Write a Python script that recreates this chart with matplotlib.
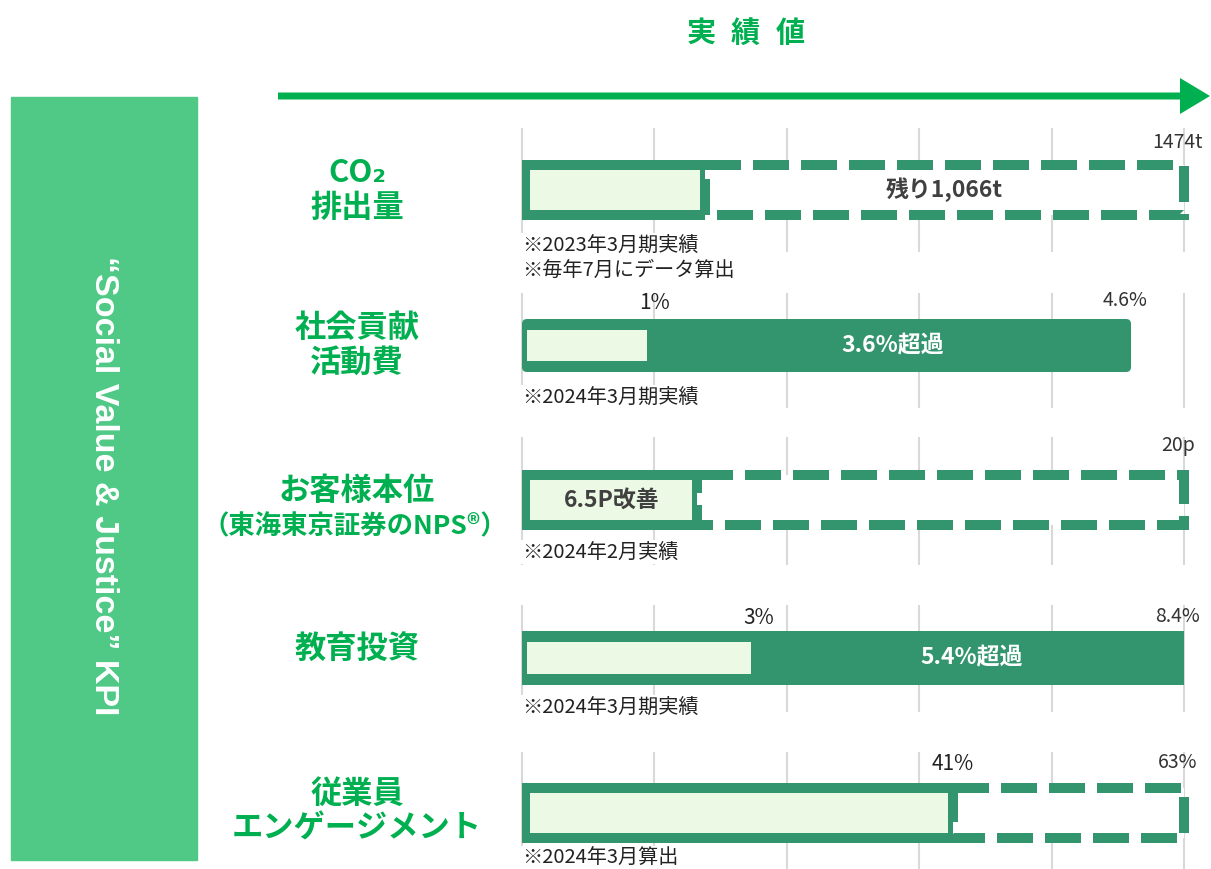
import numpy as np
import matplotlib.pyplot as plt
from matplotlib.patches import Rectangle, FancyBboxPatch, FancyArrow

plt.rcParams['font.family'] = ['Noto Sans CJK JP', 'DejaVu Sans']

# Datos
kpi_names = ["CO₂\n排出量", "社会貢献\n活動費", "お客様本位", "教育投資", "従業員\nエンゲージメント"]
kpi_kind = ["remaining", "exceeded", "remaining", "exceeded", "remaining"]
actual = [408, 1.0, 5.3, 3.0, 41]
target = [1474, 4.6, 20, 8.4, 63]
axis_max = [1474, 5, 20, 8.4, 63]
actual_labels = [None, "1%", None, "3%", "41%"]
target_labels = ["1474t", "4.6%", "20p", "8.4%", "63%"]
bar_texts = ["残り1,066t", "3.6%超過", "6.5P改善", "5.4%超過", None]
notes = ["※2023年3月期実績\n※毎年7月にデータ算出", "※2024年3月期実績", "※2024年2月実績",
         "※2024年3月期実績", "※2024年3月算出"]

# Colores
GREEN = "#00B050"
BOX = "#4FC985"
DARK = "#33956D"
LIGHT = "#EBF9E5"
GRID = "#D9D9D9"

W, H = 1211, 869
fig = plt.figure(figsize=(W / 100, H / 100), dpi=100)

def fx(x):
    return x / W

def fy(y):
    return 1 - y / H

# Caja izquierda
fig.patches.append(Rectangle((fx(11), fy(860)), fx(197) - fx(11), fy(97) - fy(860),
                             transform=fig.transFigure, color=BOX, zorder=0))
fig.text(fx(103), fy(486), "“Social Value & Justice” KPI", rotation=-90, color="white",
         fontsize=24.5, fontweight="bold", family=["Liberation Sans", "DejaVu Sans"],
         ha="center", va="center")

# Titulo y flecha
for ch, x in zip("実績値", [701, 745, 790]):
    fig.text(fx(x), fy(33), ch, color=GREEN, fontsize=21, fontweight="bold",
             ha="center", va="center")
fig.patches.append(FancyArrow(fx(278), fy(96), fx(1210) - fx(278), 0, width=7 / H,
                              head_width=36 / H, head_length=fx(30),
                              length_includes_head=True, transform=fig.transFigure,
                              color=GREEN, lw=0))

# Posiciones de paneles (px): rejilla arriba/abajo, barra arriba/abajo, centro del nombre
grid_top = [128, 293, 437, 605, 752]
grid_bot = [252, 408, 565, 712, 869]
bar_top = [160, 319, 470, 631, 783]
bar_bot = [220, 372, 530, 685, 843]
name_y = [190, 345, 491, 650, 811]
label_y = [143, 300, 446, 616, 762]
note_y = [245, 397, 552, 707, 858]

x0, x1 = 522, 1184
bw = 10  # borde en px

for i in range(5):
    ax = fig.add_axes([fx(x0), fy(grid_bot[i]), fx(x1) - fx(x0), fy(grid_top[i]) - fy(grid_bot[i])])
    ax.set_xlim(0, axis_max[i])
    ax.set_ylim(grid_bot[i], grid_top[i])
    ax.axis("off")
    px = axis_max[i] / (x1 - x0)  # unidades por px

    ax.vlines(np.linspace(0, axis_max[i], 6), grid_top[i], grid_bot[i], color=GRID, lw=1.5,
              zorder=0, clip_on=False)

    yt, yb = bar_top[i], bar_bot[i]
    if kpi_kind[i] == "remaining":
        ax.add_patch(Rectangle((actual[i], yt + bw / 2), target[i] - actual[i], yb - yt - bw,
                               facecolor="white", edgecolor=DARK, lw=bw * 0.72,
                               linestyle=(0, (3.6, 1.2)), zorder=2, clip_on=False))
        ax.add_patch(Rectangle((0, yt), actual[i], yb - yt, facecolor=DARK, lw=0,
                               zorder=3, clip_on=False))
        ax.add_patch(Rectangle((8 * px, yt + bw), actual[i] - 13 * px, yb - yt - 2 * bw,
                               facecolor=LIGHT, lw=0, zorder=4))
        if i == 0:
            ax.text((actual[i] + target[i]) / 2, (yt + yb) / 2, bar_texts[i], color="#404040",
                    fontsize=16.5, fontweight="bold", ha="center", va="center", zorder=5)
        elif bar_texts[i]:
            ax.text((actual[i] + 3 * px) / 2, (yt + yb) / 2, bar_texts[i], color="#404040",
                    fontsize=16.5, fontweight="bold", ha="center", va="center", zorder=5)
    else:
        if i == 1:
            ax.add_patch(FancyBboxPatch((0, yt), target[i], yb - yt,
                                        boxstyle="round,pad=0,rounding_size=%f" % (5 * px),
                                        mutation_aspect=1 / px, facecolor=DARK, lw=0,
                                        zorder=3, clip_on=False))
        else:
            ax.add_patch(Rectangle((0, yt), target[i], yb - yt, facecolor=DARK, lw=0,
                                   zorder=3, clip_on=False))
        ax.add_patch(Rectangle((5 * px, yt + 11), actual[i] - 12 * px, yb - yt - 22,
                               facecolor=LIGHT, lw=0, zorder=4))
        ax.text((actual[i] + target[i]) / 2, (yt + yb) / 2, bar_texts[i], color="white",
                fontsize=16.5, fontweight="bold", ha="center", va="center", zorder=5)

    ax.text(target[i] - 6 * px, label_y[i], target_labels[i], color="#333333", fontsize=14,
            ha="center", va="center", zorder=5, clip_on=False)
    if actual_labels[i]:
        ax.text(actual[i], label_y[i] + (3 if i == 1 else 2), actual_labels[i], color="#222222",
                fontsize=15, ha="center", va="center", zorder=5, clip_on=False)

    for k, line in enumerate(notes[i].split("\n")):
        ax.text(0, note_y[i] + 25 * k, line, color="#222222", fontsize=14.5, ha="left",
                va="center", zorder=5, clip_on=False,
                bbox=dict(facecolor="white", edgecolor="none", pad=1))

    # Nombre del KPI
    fig.text(fx(357), fy(name_y[i]), kpi_names[i], color=GREEN, fontsize=22.5, fontweight="bold",
             ha="center", va="center", linespacing=1.12)

fig.text(fx(355), fy(527), "（東海東京証券のNPS®）", color=GREEN, fontsize=19,
         fontweight="bold", ha="center", va="center")

fig.savefig("out.png", dpi=100)
